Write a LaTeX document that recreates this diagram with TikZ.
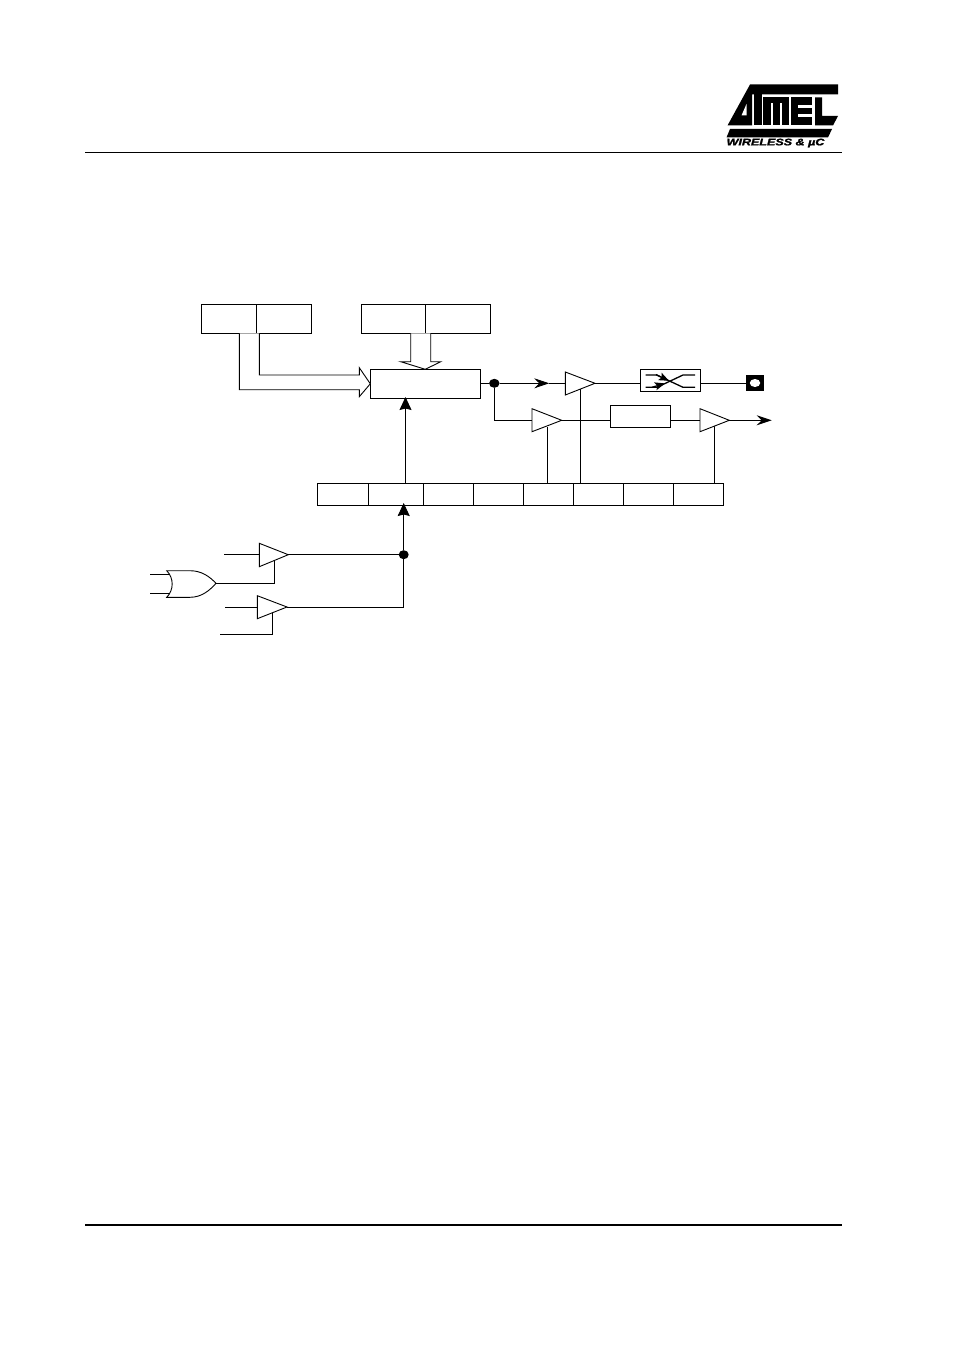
\documentclass[tikz,border=0pt]{standalone}
\usepackage{fontspec}
\setmainfont{Liberation Sans}
\usetikzlibrary{arrows.meta,shapes.geometric}
\tikzset{
  x=1pt,y=-1pt,
  wire/.style={draw=black,line width=0.9pt,line cap=butt,line join=miter},
  cell/.style={draw=black,line width=0.9pt,rectangle,inner sep=0pt,outer sep=0pt},
  amp/.style={draw=black,line width=0.9pt,fill=white,line join=miter},
  arrowed/.style={wire,-{Stealth[length=15pt,width=10pt,inset=5pt]}},
  bigarrow/.style={wire,-{Stealth[length=13pt,width=12pt,inset=1.5pt]}},
  swline/.style={draw=black,line width=1.3pt,line join=miter},
  smallarrow/.style={draw=black,line width=1.3pt,-{Stealth[length=10pt,width=8pt,inset=2pt]}},
  dotnode/.style={ellipse,fill=black,inner sep=0pt,outer sep=0pt,minimum width=10.5pt,minimum height=9pt},
  logoink/.style={fill=black,draw=none},
  logopaper/.style={fill=white,draw=none},
  rule/.style={draw=black}
}
\begin{document}
\begin{tikzpicture}
\useasboundingbox (0,0) rectangle (954,1351);
\fill[white] (0,0) rectangle (954,1351);
% page rules
\coordinate (hl) at (85,152.5); \coordinate (hr) at (842,152.5);
\coordinate (fl) at (85,1225); \coordinate (fr) at (842,1225);
\draw[rule,line width=1pt] (hl) -- (hr);
\draw[rule,line width=2pt] (fl) -- (fr);
% logo
\fill[logoink] (727.5,125.5) -- (750,84.5) -- (838,84.5) -- (838,94.5) -- (752,94.5) -- (752,125.5) -- cycle;
\fill[logopaper] (741.5,115.5) -- (746.5,104) -- (746.5,115.5) -- cycle;
\fill[logoink] (754,94) rectangle (761.5,125.5);
\fill[logoink] (763,97.5) rectangle (789,103);
\fill[logoink] (763,97.5) rectangle (770.5,125.5);
\fill[logoink] (773,97.5) rectangle (779.5,125.5);
\fill[logoink] (782,97.5) rectangle (789,125.5);
\fill[logoink] (791,97.5) rectangle (812,125.5);
\fill[logopaper] (798,105.5) rectangle (812,108);
\fill[logopaper] (798,114.5) rectangle (812,117);
\fill[logoink] (815,97.5) -- (822,97.5) -- (822,116) -- (838,116) -- (833,125.5) -- (815,125.5) -- cycle;
\fill[logoink] (730,129) -- (832,129) -- (828,137.5) -- (726.5,137.5) -- cycle;
\node[inner sep=0pt,xscale=1.32,transform shape] (logotext) at (775.5,143) {\fontsize{9.5}{9.5}\selectfont\bfseries\itshape\addfontfeatures{FakeBold=1.6}WIRELESS \& µC};
% upper boxes
\node[cell,minimum width=55pt,minimum height=29pt] (b1a) at (228.8,318.8) {};
\node[cell,minimum width=55pt,minimum height=29pt] (b1b) at (283.8,318.8) {};
\node[cell,minimum width=64pt,minimum height=29pt] (b2a) at (393.3,318.8) {};
\node[cell,minimum width=65pt,minimum height=29pt] (b2b) at (457.8,318.8) {};
\node[cell,minimum width=110pt,minimum height=29pt] (mux) at (425.3,383.8) {};
% register row
\node[cell,minimum width=51pt,minimum height=22pt] (r1) at (342.8,494.3) {};
\node[cell,minimum width=55pt,minimum height=22pt] (r2) at (395.8,494.3) {};
\node[cell,minimum width=50pt,minimum height=22pt] (r3) at (448.3,494.3) {};
\node[cell,minimum width=50pt,minimum height=22pt] (r4) at (498.3,494.3) {};
\node[cell,minimum width=50pt,minimum height=22pt] (r5) at (548.3,494.3) {};
\node[cell,minimum width=50pt,minimum height=22pt] (r6) at (598.3,494.3) {};
\node[cell,minimum width=50pt,minimum height=22pt] (r7) at (648.3,494.3) {};
\node[cell,minimum width=50pt,minimum height=22pt] (r8) at (698.3,494.3) {};
% hollow arrow, left
\coordinate (hA1) at (239.3,333.3);
\coordinate (hA2) at (259.3,333.3);
\draw[wire,fill=white] (hA1) -- (239.3,389.7) -- (359.3,389.7) -- (359.3,396.7) -- (mux.west) -- (359.3,367.7) -- (359.3,375) -- (259.3,375) -- (hA2);
% hollow arrow, top
\coordinate (hB1) at (410.7,333.3);
\coordinate (hB2) at (430.7,333.3);
\draw[wire,fill=white] (hB1) -- (410.7,361.7) -- (400.7,361.7) -- (mux.north) -- (440.7,361.7) -- (430.7,361.7) -- (hB2);
% mux output and junction
\node[dotnode] (jn1) at (494.3,383.3) {};
\draw[wire] (mux.east |- jn1) -- (jn1);
% line buffers
\coordinate (t1tip) at (595,383.3); \coordinate (t1in) at (565.3,383.3);
\coordinate (t2tip) at (561.7,420.3); \coordinate (t2in) at (532,420.3);
\coordinate (t3tip) at (729.3,420.3); \coordinate (t3in) at (700,420.3);
\coordinate (tAtip) at (288.3,554.7); \coordinate (tAin) at (259.3,554.7);
\coordinate (tBtip) at (287,607); \coordinate (tBin) at (257.3,607);
% switch, delay, pad
\node[cell,minimum width=60pt,minimum height=22pt] (sw) at (670.3,380.3) {};
\node[cell,minimum width=60pt,minimum height=22pt] (dly) at (640.3,416.3) {};
\node[rectangle,fill=black,inner sep=0pt,outer sep=0pt,minimum width=17.5pt,minimum height=16pt] (pad) at (754.8,383) {};
\node[ellipse,fill=white,inner sep=0pt,minimum width=10.5pt,minimum height=8pt] (padhole) at (755,383) {};
% connectors, upper
\coordinate (m1) at (549.3,383.3);
\draw[arrowed] (jn1) -- (m1);
\draw[wire] (m1) -- (t1in);
\draw[wire] (jn1) -- (jn1 |- t2in) -- (t2in);
\draw[wire] (t1tip) -- (sw.west |- t1tip);
\draw[wire] (sw.east |- t1tip) -- (pad.west |- t1tip);
\draw[wire] (t2tip) -- (dly.west |- t2tip);
\draw[wire] (dly.east |- t3in) -- (t3in);
\coordinate (out) at (771.7,420.3);
\draw[arrowed] (t3tip) -- (out);
% enables
\coordinate (e2) at (547.3,427); \coordinate (e1) at (580.3,389);\coordinate (e3) at (714.3,426);
\draw[wire] (e2) -- (e2 |- r5.north);
\draw[wire] (e3) -- (e3 |- r8.north);
% buffers drawn
\draw[amp] (565.3,372) -- (t1tip) -- (565.3,395) -- cycle;
\draw[amp] (532,408.7) -- (t2tip) -- (532,431.7) -- cycle;
\draw[amp] (700,408.7) -- (t3tip) -- (700,431.7) -- cycle;
\draw[wire] (e1) -- (e1 |- r6.north);
% up arrow to mux
\coordinate (upb) at (405.5,483.3); \coordinate (upt) at (405.5,397);
\draw[bigarrow] (upb) -- (upt);
% switch inner
\draw[swline] (645.7,375) -- (656.7,375) -- (683,387.3) -- (695,387.3);
\draw[swline] (645.7,387.3) -- (657,387.3) -- (683,375) -- (695,375);
\draw[smallarrow] (656,374.6) -- (669,380.8);
\draw[smallarrow] (652,387.3) -- (665,383.4);
% lower section
\node[dotnode,minimum width=10pt] (jn2) at (403.7,554.7) {};
\coordinate (regin) at (403.7,503);
\coordinate (inA) at (224,554.7); \coordinate (inB) at (225,607);
\draw[wire] (inA) -- (tAin);
\draw[wire] (inB) -- (tBin);
\draw[wire] (tAtip) -- (jn2);
\draw[wire] (tBtip) -- (403.7,607) -- (jn2);
\draw[bigarrow] (jn2) -- (regin);
% OR gate
\coordinate (ortip) at (216,583.3);
\coordinate (or1) at (150,574.3); \coordinate (or2) at (150,593.3);
\draw[wire] (or1) -- (170.8,574.3);
\draw[wire] (or2) -- (170.8,593.3);
\draw[amp] (166.7,570.7) -- (190,570.7) .. controls (202,570.7) and (210,577) .. (ortip) .. controls (210,590) and (202,597.3) .. (190,597.3) -- (166.7,597.3) .. controls (174,590) and (174,578) .. (166.7,570.7) -- cycle;
\coordinate (eA) at (274,561); \coordinate (eB) at (272.7,613); \coordinate (eBin) at (220,634.3);
\draw[wire] (ortip) -- (eA |- ortip) -- (eA);
\draw[wire] (eBin) -- (eB |- eBin) -- (eB);
\draw[amp] (259.3,543.3) -- (tAtip) -- (259.3,566.7) -- cycle;
\draw[amp] (257.3,595.7) -- (tBtip) -- (257.3,618.7) -- cycle;
\end{tikzpicture}
\end{document}
